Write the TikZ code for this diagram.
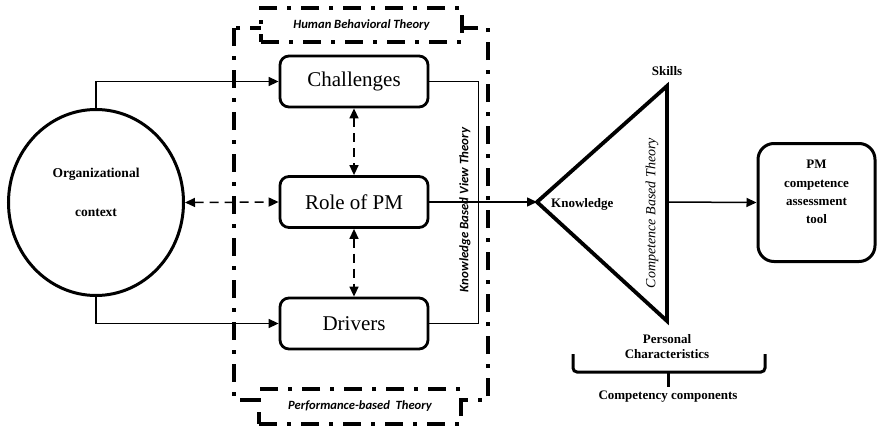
\documentclass[tikz,border=0pt]{standalone}
\usepackage{fontspec}
\setmainfont{Liberation Serif}
\newfontfamily\calib{Carlito}
\usetikzlibrary{arrows.meta,shapes.geometric}

\begin{document}
\begin{tikzpicture}[x=1pt,y=-1pt,
  theory/.style={line width=3.2pt, dash pattern=on 18pt off 10pt on 4pt off 10pt},
  pbox/.style={draw, line width=2.8pt, rounded corners=9pt, minimum width=148pt,
    minimum height=51pt, inner sep=0pt, font=\fontsize{21}{24}\selectfont},
  tip/.tip={Triangle[length=10pt,width=9pt]},
  link/.style={line width=1.5pt, -tip},
  dlink/.style={line width=1.5pt, dash pattern=on 9pt off 6pt, tip-tip},
  lbl/.style={font=\bfseries\fontsize{13}{15}\selectfont, inner sep=0pt},
  theorylbl/.style={font=\calib\bfseries\itshape\fontsize{12.6}{14}\selectfont}]
\useasboundingbox (0,0) rectangle (878,431);

% dash-dot frame around the three factors
\draw[theory] (234,28) rectangle (488,400);
\node[theory, draw, fill=white, minimum width=201pt, minimum height=34pt, theorylbl]
  (hbt) at (361.5,25) {Human Behavioral Theory};
\node[theory, draw, fill=white, minimum width=202pt, minimum height=35pt, theorylbl]
  (pbt) at (360,406.5) {Performance-based~ Theory};

% organisational context
\node[draw, ellipse, line width=3pt, minimum width=175pt, minimum height=186pt,
  inner sep=0pt] (org) at (96,202.5) {};
\node[font=\bfseries\fontsize{13.5}{39}\selectfont, align=center] (orgtxt) at (96,192)
  {Organizational\\context};

% factor boxes
\node[pbox] (ch) at (354,81.5) {Challenges};
\node[pbox] (role) at (354,202) {Role of PM};
\node[pbox] (dr) at (354,323.5) {Drivers};

\draw[link] (org.north) |- (ch.west);
\draw[link] (org.south) |- (dr.west);
\draw[dlink] (org.east) -- (role.west);
\draw[dlink] (ch.south) -- (role.north);
\draw[dlink] (role.south) -- (dr.north);

% bracket joining challenges and drivers
\draw[line width=1.5pt] (ch.east) -- ++(49,0) |- (dr.east);
\node[rotate=90, theorylbl, font=\calib\bfseries\itshape\fontsize{12.9}{15}\selectfont]
  (kbv) at (465,210) {Knowledge Based View Theory};

% competency triangle
\coordinate (tl) at (537,202);
\coordinate (tt) at (667,86);
\coordinate (tb) at (667,321);
\draw[line width=3.8pt, line join=miter] (tl) -- (tt) -- (tb) -- cycle;
\draw[link] (role.east) -- (role.east -| tl);

\node[lbl, anchor=west] (kn) at (551,204) {Knowledge};
\node[lbl] (sk) at (667,71) {Skills};
\node[rotate=90, font=\itshape\fontsize{14}{16}\selectfont] (cbt) at (652,213)
  {Competence Based Theory};
\node[lbl, align=center] (pc) at (667,347) {Personal\\Characteristics};

% brace under the triangle
\draw[line width=3pt, rounded corners=4pt] (573,354) -- (573,372) -- (765,372) -- (765,354);
\draw[line width=3pt] (668,372) -- (668,387);
\node[lbl] (cc) at (668,397) {Competency components};

% assessment tool
\node[draw, line width=3pt, rounded corners=16pt, minimum width=117pt,
  minimum height=118pt] (pm) at (816.5,202.5) {};
\node[font=\bfseries\fontsize{13}{18.3}\selectfont, align=center] (pmtxt) at (816.5,192)
  {PM\\competence\\assessment\\tool};
\draw[link] (role.east -| tt) -- (pm.west);
\end{tikzpicture}
\end{document}
